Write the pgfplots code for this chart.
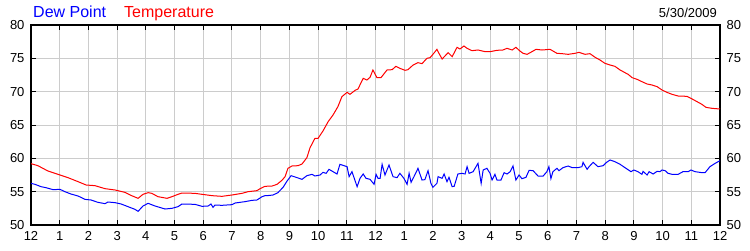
\documentclass[border=0pt]{standalone}
\usepackage{fontspec}
\setmainfont{Liberation Sans}
\usepackage{pgfplots}
\pgfplotsset{compat=1.18}
\definecolor{gridgray}{RGB}{204,204,204}
\definecolor{dewblue}{RGB}{0,0,255}
\definecolor{tempred}{RGB}{255,0,0}
\begin{document}
\begin{tikzpicture}[x=1bp,y=1bp]
\useasboundingbox (0,0) rectangle (750,250);
\pgfplotsset{myaxis/.style={
  at={(31bp,25bp)}, anchor=south west, scale only axis,
  width=689bp, height=200bp,
  xmin=0, xmax=24, ymin=50, ymax=80,
  xtick={0,...,24}, ytick={50,55,...,80},
  tick align=inside, major tick length=5bp,
  tick style={black, line width=1bp},
  /pgf/number format/assume math mode=true,
  tick label style={font=\fontsize{13bp}{15bp}\selectfont},
}}
\begin{axis}[myaxis,
  axis line style={line width=1.5bp},
  grid=major, grid style={gridgray, line width=1bp},
  xticklabels={12,1,2,3,4,5,6,7,8,9,10,11,12,1,2,3,4,5,6,7,8,9,10,11,12},
  yticklabel pos=left,
  yticklabel style={xshift=-3bp},
  xticklabel style={yshift=-3bp},
]
\addplot[dewblue, line width=1bp, mark=none] coordinates {
(0,56.25) (0.14,56.1) (0.35,55.75) (0.52,55.6) (0.77,55.3) (1.01,55.35) (1.18,55.0) (1.39,54.65) (1.64,54.35) (1.88,53.85) (2.09,53.75) (2.33,53.4) (2.58,53.2) (2.68,53.45) (2.93,53.35) (3.14,53.15) (3.38,52.75) (3.62,52.35) (3.73,52.05) (3.90,52.85) (4.08,53.25) (4.32,52.85) (4.67,52.4) (4.91,52.5) (5.12,52.75) (5.26,53.15) (5.71,53.1) (5.96,52.8) (6.17,52.85) (6.27,53.15) (6.34,52.65) (6.41,53.0) (6.65,52.95) (7.00,53.05) (7.11,53.3) (7.45,53.5) (7.70,53.7) (7.87,53.75) (8.05,54.25) (8.15,54.4) (8.22,54.4) (8.43,54.5) (8.60,54.85) (8.78,55.65) (8.92,56.6) (9.06,57.4) (9.27,57.1) (9.44,56.85) (9.61,57.4) (9.79,57.6) (9.89,57.35) (10.07,57.5) (10.17,57.9) (10.28,57.75) (10.38,58.35) (10.52,58.0) (10.66,57.65) (10.76,59.1) (11.01,58.75) (11.08,57.25) (11.18,58.0) (11.36,55.75) (11.46,57.0) (11.57,57.65) (11.67,57.0) (11.81,56.85) (11.95,56.1) (12.02,57.6) (12.09,57.0) (12.16,57.0) (12.23,59.1) (12.33,57.5) (12.47,59.0) (12.61,57.25) (12.75,57.1) (12.85,57.75) (12.99,57.0) (13.10,56.1) (13.17,57.75) (13.24,56.4) (13.34,57.25) (13.48,58.5) (13.62,56.75) (13.72,56.8) (13.83,58.15) (13.93,56.25) (14.00,55.65) (14.14,56.25) (14.18,57.25) (14.32,57.0) (14.39,57.65) (14.49,56.5) (14.56,57.15) (14.67,55.75) (14.74,55.8) (14.87,57.65) (15.01,57.75) (15.12,57.65) (15.19,58.75) (15.26,57.75) (15.40,58.0) (15.57,59.25) (15.68,56.25) (15.75,58.25) (15.88,58.5) (15.99,57.75) (16.06,56.75) (16.16,57.6) (16.23,56.75) (16.37,56.75) (16.48,57.85) (16.58,57.65) (16.69,58.0) (16.79,58.85) (16.89,56.75) (17.00,57.5) (17.10,56.95) (17.24,57.15) (17.35,58.2) (17.49,58.15) (17.66,57.35) (17.84,57.35) (17.97,58.0) (18.04,58.75) (18.11,56.95) (18.18,58.0) (18.32,58.5) (18.39,58.15) (18.53,58.6) (18.71,58.85) (18.85,58.6) (19.05,58.6) (19.19,58.75) (19.23,59.4) (19.37,58.35) (19.44,58.75) (19.58,59.4) (19.75,58.75) (19.93,58.9) (20.05,59.4) (20.17,59.75) (20.34,59.5) (20.52,59.1) (20.69,58.6) (20.90,58.0) (21.00,58.25) (21.14,58.0) (21.28,57.6) (21.32,58.05) (21.46,57.5) (21.53,58.0) (21.67,57.65) (21.81,58.05) (21.91,58.0) (21.98,58.25) (22.09,58.15) (22.19,57.75) (22.33,57.6) (22.54,57.6) (22.71,58.0) (22.89,58.0) (22.99,58.25) (23.13,58.0) (23.37,57.85) (23.48,57.85) (23.65,58.75) (23.83,59.25) (24.00,59.65)
};
\addplot[tempred, line width=1bp, mark=none] coordinates {
(0,59.2) (0.24,58.9) (0.59,58.1) (0.94,57.6) (1.29,57.1) (1.64,56.5) (1.92,56.0) (2.23,55.9) (2.58,55.45) (2.93,55.25) (3.27,54.9) (3.48,54.45) (3.73,54.0) (3.90,54.6) (4.08,54.85) (4.21,54.75) (4.42,54.25) (4.74,54.0) (4.91,54.25) (5.12,54.6) (5.26,54.8) (5.71,54.75) (5.96,54.6) (6.31,54.4) (6.65,54.3) (7.00,54.5) (7.35,54.75) (7.56,55.0) (7.87,55.15) (7.98,55.45) (8.15,55.8) (8.40,55.85) (8.57,56.1) (8.74,56.7) (8.85,57.25) (8.95,58.5) (9.09,58.85) (9.30,58.9) (9.44,59.15) (9.61,60.1) (9.72,61.6) (9.89,63.0) (10.00,63.0) (10.17,64.1) (10.35,65.5) (10.52,66.5) (10.69,67.75) (10.83,69.25) (11.01,69.9) (11.11,69.6) (11.29,70.2) (11.39,70.4) (11.57,72.0) (11.70,71.75) (11.81,72.15) (11.91,73.25) (12.05,72.1) (12.19,72.1) (12.40,73.25) (12.58,73.3) (12.71,73.8) (12.85,73.5) (13.03,73.2) (13.13,73.3) (13.31,74.0) (13.48,74.35) (13.62,74.2) (13.79,75.0) (13.90,75.1) (14.00,75.6) (14.14,76.35) (14.21,75.75) (14.32,74.9) (14.53,75.85) (14.67,75.25) (14.84,76.65) (14.94,76.4) (15.08,76.85) (15.19,76.5) (15.36,76.15) (15.57,76.25) (15.82,76.0) (15.99,76.0) (16.23,76.2) (16.44,76.25) (16.58,76.5) (16.76,76.25) (16.89,76.65) (17.03,76.1) (17.14,75.75) (17.28,75.6) (17.45,76.0) (17.59,76.35) (17.80,76.25) (18.08,76.35) (18.32,75.75) (18.50,75.7) (18.71,75.6) (18.95,75.75) (19.09,75.9) (19.30,75.6) (19.47,75.7) (19.65,75.15) (19.82,74.75) (19.99,74.25) (20.17,74.0) (20.34,73.8) (20.52,73.25) (20.69,72.85) (20.80,72.6) (20.94,72.1) (21.11,71.85) (21.28,71.5) (21.46,71.15) (21.63,71.0) (21.81,70.75) (21.98,70.25) (22.15,69.9) (22.33,69.6) (22.54,69.35) (22.85,69.3) (23.03,68.9) (23.20,68.5) (23.37,68.1) (23.51,67.65) (23.72,67.5) (24.00,67.4)
};
\end{axis}
\begin{axis}[myaxis,
  axis line style={draw=none},
  tick style={draw=none},
  xticklabels={},
  yticklabel pos=right,
  yticklabel style={xshift=3bp},
]
\end{axis}
\node[anchor=base west, inner sep=0pt, text=dewblue, font=\fontsize{16bp}{18bp}\selectfont] at (33,232.7) {Dew Point};
\node[anchor=base west, inner sep=0pt, text=tempred, font=\fontsize{16bp}{18bp}\selectfont] at (124,232.7) {Temperature};
\node[anchor=base east, inner sep=0pt, font=\fontsize{13bp}{15bp}\selectfont] at (717,232.7) {5/30/2009};
\end{tikzpicture}
\end{document}
